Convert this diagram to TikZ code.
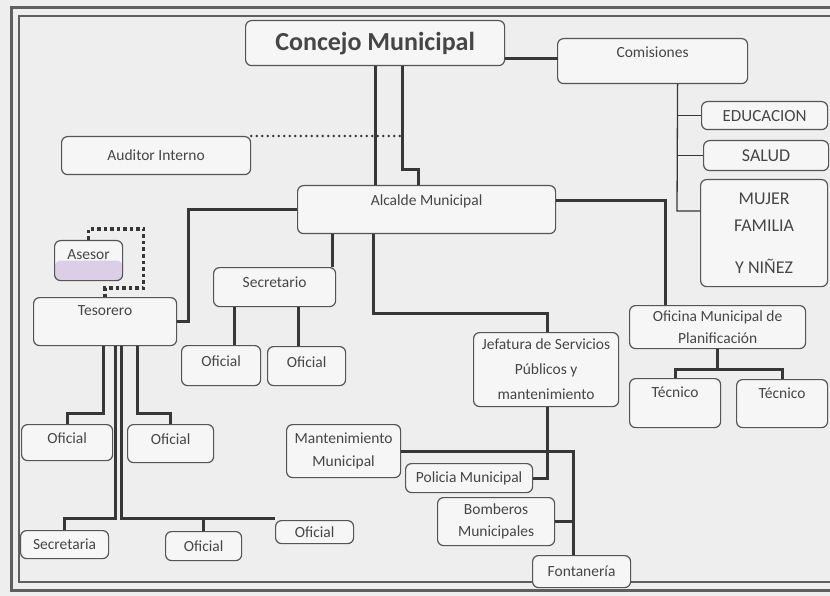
\documentclass[tikz,border=0pt]{standalone}
\usepackage{fontspec}
\setmainfont{Carlito}
\usetikzlibrary{calc}
\definecolor{bgc}{RGB}{238,238,238}
\definecolor{boxf}{RGB}{246,246,246}
\definecolor{boxc}{RGB}{85,85,85}
\definecolor{connc}{RGB}{55,55,55}
\definecolor{txtc}{RGB}{70,70,70}
\definecolor{framec}{RGB}{95,95,95}
\definecolor{lilac}{RGB}{220,206,230}
\newcommand\fsn{\fontsize{15.5}{20}\selectfont}
\tikzset{
  box/.style={draw=boxc, line width=1.2pt, rounded corners=6pt, fill=boxf,
    text=txtc, font=\fsn, inner sep=2pt, align=center, anchor=north west},
  tophold/.style={text height=11pt, text depth=#1},
  conn/.style={draw=connc, line width=3pt},
  thinconn/.style={draw=connc, line width=1.3pt},
  rounddots/.style={draw=connc, line width=2.8pt, line cap=round, dash pattern=on 0pt off 5.5pt},
  sqdots/.style={draw=connc, line width=3.5pt, dash pattern=on 3.5pt off 3pt},
}
\begin{document}
\begin{tikzpicture}[x=1pt,y=-1pt]
\useasboundingbox (0,0) rectangle (830,596);
\fill[bgc] (0,0) rectangle (830,596);
% frame
\draw[framec, line width=3pt] (11,8) rectangle (845,590);
\draw[framec, line width=1.5pt] (19,16) rectangle (845,582);

% nodes
\node[box, minimum width=259pt, minimum height=45pt, font=\fontsize{26}{30}\selectfont\bfseries] (cm) at (245,20) {Concejo Municipal};
\node[box, minimum width=190pt, minimum height=45pt, tophold=18pt] (com) at (557,38) {Comisiones};
\node[box, minimum width=126pt, minimum height=28pt, font=\fontsize{17}{20}\selectfont] (edu) at (701,101) {EDUCACION};
\node[box, minimum width=125pt, minimum height=30pt, font=\fontsize{18}{20}\selectfont] (sal) at (703,140) {SALUD};
\node[box, minimum width=127pt, minimum height=107pt, font=\fontsize{18}{27}\selectfont] (muj) at (700,179) {MUJER\\FAMILIA\\[15pt]Y NIÑEZ};
\node[box, minimum width=189pt, minimum height=38pt] (aud) at (61,136) {Auditor Interno};
\node[box, minimum width=258pt, minimum height=48pt, tophold=19pt] (alc) at (297,185) {Alcalde Municipal};
\node[box, minimum width=68pt, minimum height=40pt, tophold=13pt,
  path picture={\fill[lilac] (path picture bounding box.west) rectangle (path picture bounding box.south east);}] (ase) at (54,240) {Asesor};
\node[box, minimum width=143pt, minimum height=48pt, tophold=23pt] (tes) at (33,297) {Tesorero};
\node[box, minimum width=122pt, minimum height=39pt, tophold=10pt] (sec) at (213,267) {Secretario};
\node[box, minimum width=79pt, minimum height=40pt, tophold=9pt] (of1) at (181,345) {Oficial};
\node[box, minimum width=78pt, minimum height=39pt, tophold=9pt] (of2) at (267,346) {Oficial};
\node[box, minimum width=145pt, minimum height=74pt, font=\fontsize{15.5}{25}\selectfont] (jef) at (473,332) {Jefatura de Servicios\\Públicos y\\mantenimiento};
\node[box, minimum width=176pt, minimum height=43pt, font=\fontsize{15.5}{22}\selectfont] (ofi) at (629,305) {Oficina Municipal de\\Planificación};
\node[box, minimum width=91pt, minimum height=49pt, tophold=22pt] (tec1) at (629,378) {Técnico};
\node[box, minimum width=91pt, minimum height=48pt, tophold=22pt] (tec2) at (736,379) {Técnico};
\node[box, minimum width=114pt, minimum height=53pt, font=\fontsize{15.5}{23}\selectfont] (man) at (286,424) {Mantenimiento\\Municipal};
\node[box, minimum width=127pt, minimum height=29pt] (pol) at (405,463) {Policia Municipal};
\node[box, minimum width=117pt, minimum height=48pt, font=\fontsize{15.5}{22}\selectfont] (bom) at (437,497) {Bomberos\\Municipales};
\node[box, minimum width=98pt, minimum height=32pt] (fon) at (532,555) {Fontanería};
\node[box, minimum width=91pt, minimum height=36pt, tophold=9pt] (ot1) at (21,424) {Oficial};
\node[box, minimum width=86pt, minimum height=38pt, tophold=9pt] (ot2) at (127,424) {Oficial};
\node[box, minimum width=88pt, minimum height=28pt] (sria) at (20,530) {Secretaria};
\node[box, minimum width=76pt, minimum height=29pt] (ot3) at (165,531) {Oficial};
\node[box, minimum width=78pt, minimum height=23pt, inner sep=0pt] (ot4) at (275,520) {Oficial};

% helper coordinates
\coordinate (c2) at ($(cm.south)+(27.5,0)$);
\coordinate (cv) at ($(com.south)+(25,0)$);
\coordinate (sx) at ($(sec.north east)+(-4,0)$);
\coordinate (o1x) at ($(of1.north)+(13,0)$);
\coordinate (o2x) at ($(of2.north)+(-8,0)$);
\coordinate (fx) at ($(fon.north)+(-8,0)$);
\coordinate (tj) at ($(ofi.south)+(0,20)$);

% connectors
\draw[conn] (cm.south) -- (cm.south |- alc.north);
\draw[conn] (c2) -- ++(0,103) -| ($(alc.north)+(-8,0)$);
\draw[conn] ($(cm.east)+(0,15.5)$) -- ($(cm.east)+(53,15.5)$);
\draw[thinconn] (cv) -- ($(muj.north west)+(-23,32)$) -- ($(muj.north west)+(0,32)$);
\draw[thinconn] (cv |- edu.west) -- (edu.west);
\draw[thinconn] (cv |- sal.west) -- (sal.west);
\draw[rounddots] (aud.north east) -- (aud.north east -| c2);
\draw[conn] (alc.west) -| ($(tes.east)+(11,0)$) -- (tes.east);
\draw[sqdots] (ase.north) -- ++(0,-11) -| ($(tes.north)+(38.5,-9)$) -| (tes.north);
\draw[conn] (sx) -- (sx |- alc.south);
\draw[conn] (o1x) -- (o1x |- sec.south);
\draw[conn] (o2x) -- (o2x |- sec.south);
\draw[conn] ($(alc.south west)+(76,0)$) |- ($(jef.north)+(1.5,-19)$) -- ($(jef.north)+(1.5,0)$);
\draw[conn] ($(jef.south)+(1.5,0)$) |- (pol.east);
\draw[conn] (man.east) -- (man.east -| fx) -- (fx);
\draw[conn] (bom.east) -- (bom.east -| fx);
\draw[conn] ($(alc.east)+(0,-9)$) -| ($(ofi.north)+(-52,0)$);
\draw[conn] (ofi.south) -- (tj);
\draw[conn] (tec1.north) -- (tec1.north |- tj) -- (tec2.north |- tj) -- (tec2.north);
\draw[conn] ($(tes.south)+(-1.5,0)$) |- ($(ot1.north)+(0,-11)$) -- (ot1.north);
\draw[conn] ($(tes.south)+(32.5,0)$) |- ($(ot2.north)+(0,-11)$) -- (ot2.north);
\draw[conn] ($(tes.south)+(10.5,0)$) |- ($(sria.north)+(0,-12)$) -- (sria.north);
\draw[conn] ($(tes.south)+(16.5,0)$) |- ($(ot4.north west)+(0,-2)$);
\draw[conn] (ot3.north) -- ($(ot3.north)+(0,-13)$);
\end{tikzpicture}
\end{document}
